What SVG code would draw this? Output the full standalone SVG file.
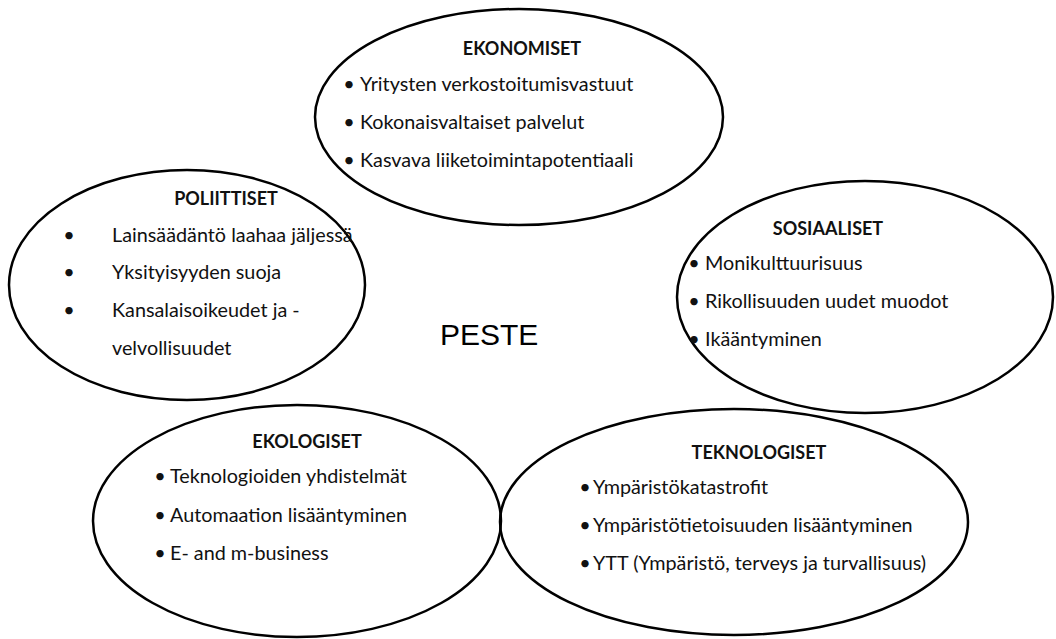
<svg xmlns="http://www.w3.org/2000/svg" width="1056" height="639" viewBox="0 0 1056 639">
<style>
.e{fill:none;stroke:#000;stroke-width:2.5}
.h{font-family:Lato,"Open Sans",sans-serif;font-weight:bold;font-size:18px;fill:#111;text-anchor:middle}
.t{font-family:Lato,"Open Sans",sans-serif;font-size:19.8px;fill:#111}
.b{font-family:Lato,"Open Sans",sans-serif;font-size:19.8px;fill:#111;text-anchor:middle}
.p{font-family:"Liberation Sans",Arial,sans-serif;font-size:30px;fill:#000}
</style>
<rect width="1056" height="639" fill="#fff"/>
<g id="ekonomiset">
<ellipse class="e" cx="519" cy="117" rx="204" ry="108"/>
<text class="h" x="522" y="55">EKONOMISET</text>
<text class="b" x="349" y="91">•</text><text class="t" x="360" y="91">Yritysten verkostoitumisvastuut</text>
<text class="b" x="349" y="129">•</text><text class="t" x="360" y="129">Kokonaisvaltaiset palvelut</text>
<text class="b" x="349" y="167">•</text><text class="t" x="360" y="167">Kasvava liiketoimintapotentiaali</text>
</g>
<g id="poliittiset">
<ellipse class="e" cx="187" cy="285" rx="178" ry="115"/>
<text class="h" x="226" y="205">POLIITTISET</text>
<text class="b" x="69" y="242">•</text><text class="t" x="112" y="242">Lainsäädäntö laahaa jäljessä</text>
<text class="b" x="69" y="279">•</text><text class="t" x="112" y="279">Yksityisyyden suoja</text>
<text class="b" x="69" y="317">•</text><text class="t" x="112" y="317">Kansalaisoikeudet ja -</text>
<text class="t" x="112" y="355">velvollisuudet</text>
</g>
<g id="sosiaaliset">
<ellipse class="e" cx="865" cy="297" rx="188" ry="116"/>
<text class="h" x="828" y="235">SOSIAALISET</text>
<text class="b" x="694" y="270">•</text><text class="t" x="705" y="270">Monikulttuurisuus</text>
<text class="b" x="694" y="308">•</text><text class="t" x="705" y="308">Rikollisuuden uudet muodot</text>
<text class="b" x="694" y="346">•</text><text class="t" x="705" y="346">Ikääntyminen</text>
</g>
<g id="ekologiset">
<ellipse class="e" cx="297" cy="521" rx="204" ry="116"/>
<text class="h" x="307" y="448">EKOLOGISET</text>
<text class="b" x="160" y="483">•</text><text class="t" x="170" y="483">Teknologioiden yhdistelmät</text>
<text class="b" x="160" y="522">•</text><text class="t" x="170" y="522">Automaation lisääntyminen</text>
<text class="b" x="160" y="560">•</text><text class="t" x="170" y="560">E- and m-business</text>
</g>
<g id="teknologiset">
<ellipse class="e" cx="734" cy="522" rx="234" ry="113"/>
<text class="h" x="759" y="459">TEKNOLOGISET</text>
<text class="b" x="585" y="494">•</text><text class="t" x="593" y="494">Ympäristökatastrofit</text>
<text class="b" x="585" y="532">•</text><text class="t" x="593" y="532">Ympäristötietoisuuden lisääntyminen</text>
<text class="b" x="585" y="570">•</text><text class="t" x="593" y="570">YTT (Ympäristö, terveys ja turvallisuus)</text>
</g>
<g id="peste">
<text class="p" x="440" y="345">PESTE</text>
</g>
<g id="connectors"/>
</svg>
